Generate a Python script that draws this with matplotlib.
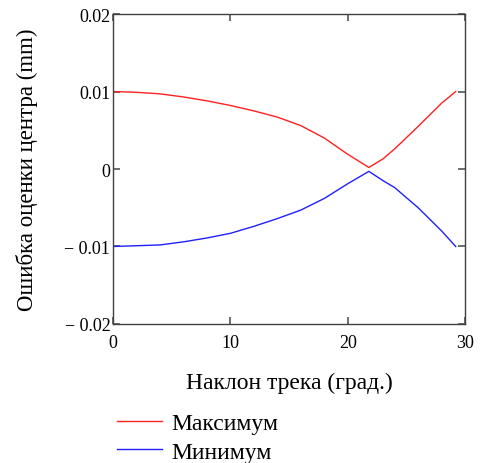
import matplotlib
matplotlib.use("Agg")
import matplotlib.pyplot as plt

# наклон трека (град.)
angle = [0, 2, 4, 6, 8, 10, 12, 14, 16, 18, 20, 21.8, 23, 24, 26, 28, 29.2]
# ошибка оценки центра (mm)
err_max = [0.0100, 0.0099, 0.0097, 0.0093, 0.0088, 0.0082, 0.0075, 0.0067, 0.0056,
           0.0040, 0.0019, 0.0002, 0.0013, 0.0026, 0.0055, 0.0085, 0.0100]
err_min = [-0.0100, -0.0099, -0.0098, -0.0094, -0.0089, -0.0083, -0.0074, -0.0064, -0.0053,
           -0.0038, -0.0019, -0.0003, -0.0015, -0.0024, -0.0050, -0.0080, -0.0100]

x_ticks = [0, 10, 20, 30]
y_ticks = [-0.02, -0.01, 0, 0.01, 0.02]
y_tick_labels = ["\u2212 0.02", "\u2212 0.01", "0", "0.01", "0.02"]

plt.rcParams["font.family"] = ["Liberation Serif", "DejaVu Serif"]

fig = plt.figure(figsize=(4.81, 4.64), dpi=100)
ax = fig.add_axes([0.235, 0.2996, 0.732, 0.668])

ax.plot(angle, err_max, color="#ff2020", linewidth=1, label="Максимум")
ax.plot(angle, err_min, color="#2020ff", linewidth=1, label="Минимум")

ax.set_xlim(0, 30)
ax.set_ylim(-0.02, 0.02)
ax.set_xticks(x_ticks)
ax.set_xticklabels([str(t) for t in x_ticks])
ax.set_yticks(y_ticks)
ax.set_yticklabels(y_tick_labels)
ax.tick_params(direction="in", length=5, width=1.2, color="#555555",
               top=True, right=True, labelsize=13)
ax.tick_params(axis="x", pad=7)
ax.tick_params(axis="y", pad=2)

for s in ax.spines.values():
    s.set_color("#404040")
    s.set_linewidth(1)

ax.set_xlabel("Наклон трека (град.)", fontsize=17, labelpad=15)
ax.set_ylabel("Ошибка оценки центра (mm)", fontsize=16.5, labelpad=19)

fig.legend(loc="upper left", bbox_to_anchor=(0.243, 0.108), frameon=False,
           fontsize=17, handlelength=1.9, handletextpad=0.4, labelspacing=0.28,
           borderaxespad=0, borderpad=0)

fig.savefig("out.png", dpi=100)
